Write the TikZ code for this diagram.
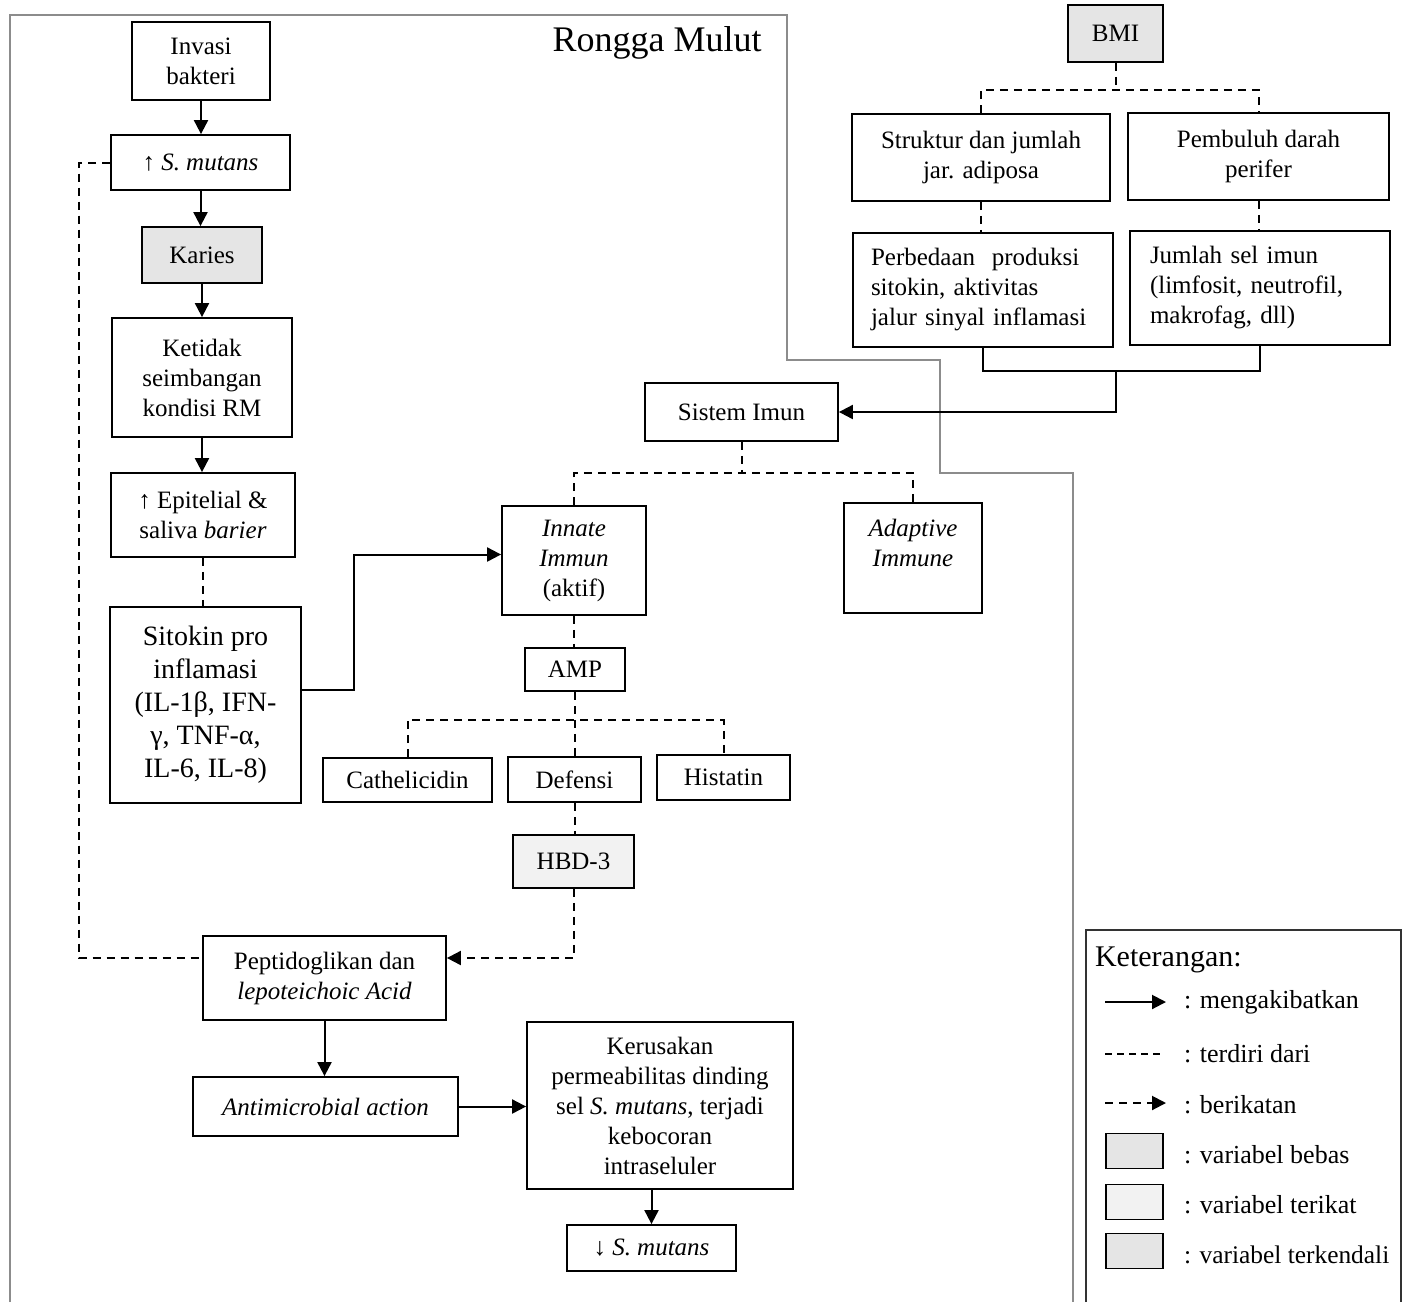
\documentclass[tikz,border=0pt]{standalone}
\usepackage{fontspec}
\setmainfont{Liberation Serif}
\usetikzlibrary{arrows.meta,calc}
\newcommand\nfs{\fontsize{12.5}{15}\selectfont}
\newcommand\bfs{\fontsize{14}{16.5}\selectfont}
\newcommand\lfs{\fontsize{13}{15}\selectfont}
\definecolor{varfill}{gray}{0.90}
\definecolor{varlight}{gray}{0.95}
\definecolor{bordergray}{gray}{0.55}
\begin{document}
\begin{tikzpicture}[x=0.5pt,y=-0.5pt,
  box/.style={draw, line width=0.9pt, align=center, inner sep=2pt, font=\nfs},
  grey/.style={fill=varfill},
  conn/.style={line width=1pt},
  arr/.style={conn, -{Triangle[length=7pt,width=7pt]}},
  dsh/.style={conn, dash pattern=on 4pt off 3pt},
  darr/.style={dsh, -{Triangle[length=7pt,width=7pt]}},
  border/.style={draw=bordergray, line width=0.6pt}]
\useasboundingbox (0,0) rectangle (1403,1302);

% Rongga Mulut region
\draw[border] (10,1302) -- (10,15) -- (787,15) -- (787,360) -- (940,360) -- (940,473) -- (1073,473) -- (1073,1302);
\node[font=\fontsize{18}{20}\selectfont] (rm) at (657,43) {Rongga Mulut};

% left column
\node[box, minimum width=69pt, minimum height=39pt] (inv) at (201,61) {Invasi\\bakteri};
\node[box, minimum width=89.5pt, minimum height=27.5pt] (smu) at (200.5,162.5) {↑ \textit{S. mutans}};
\node[box, grey, minimum width=60pt, minimum height=28pt] (kar) at (202,255) {Karies};
\node[box, minimum width=90pt, minimum height=59.5pt] (ket) at (202,377.5) {Ketidak\\seimbangan\\kondisi RM};
\node[box, minimum width=92pt, minimum height=42pt] (epi) at (203,515) {↑ Epitelial \&\\saliva \textit{barier}};
\node[box, font=\bfs, minimum width=95.5pt, minimum height=98pt] (sit) at (205.5,705) {Sitokin pro\\inflamasi\\(IL-1β, IFN-\\γ, TNF-α,\\IL-6, IL-8)};

% immune
\node[box, minimum width=96.5pt, minimum height=29pt] (sis) at (741.5,412) {Sistem Imun};
\node[box, minimum width=72pt, minimum height=54.5pt] (inn) at (574,560.5) {\textit{Innate}\\\textit{Immun}\\(aktif)};
\node[box, minimum width=69pt, minimum height=55pt] (ada) at (913,558) {\textit{Adaptive}\\\textit{Immune}\\\mbox{}};
\node[box, minimum width=50pt, minimum height=21.5pt] (amp) at (575,669.5) {AMP};
\node[box, minimum width=84.5pt, minimum height=22pt] (cat) at (407.5,780) {Cathelicidin};
\node[box, minimum width=66.5pt, minimum height=22.5pt] (def) at (574.5,779.5) {Defensi};
\node[box, minimum width=66.5pt, minimum height=22.5pt] (his) at (723.5,777.5) {Histatin};
\node[box, fill=varlight, minimum width=60.5pt, minimum height=26.5pt] (hbd) at (573.5,861.5) {HBD-3};

% bottom
\node[box, minimum width=121.5pt, minimum height=42pt] (pep) at (324.5,978) {Peptidoglikan dan\\\textit{lepoteichoic Acid}};
\node[box, minimum width=132.5pt, minimum height=29.5pt] (ant) at (325.5,1106.5) {\textit{Antimicrobial action}};
\node[box, minimum width=133pt, minimum height=83.5pt] (ker) at (660,1105.5) {Kerusakan\\permeabilitas dinding\\sel \textit{S. mutans}, terjadi\\kebocoran\\intraseluler};
\node[box, minimum width=84.5pt, minimum height=23pt] (dsm) at (651.5,1248) {↓ \textit{S. mutans}};

% BMI part
\node[box, grey, minimum width=47.5pt, minimum height=28.5pt] (bmi) at (1115.5,33.5) {BMI};
\node[box, minimum width=129pt, minimum height=43.5pt] (str) at (981,157.5) {Struktur dan jumlah\\jar. adiposa};
\node[box, minimum width=130.5pt, minimum height=43.5pt] (pem) at (1258.5,156.5) {Pembuluh darah\\perifer};
\node[box, align=left, text width=112pt, minimum width=130pt, minimum height=57pt] (per) at (983,290) {Perbedaan\ \ produksi\\sitokin, aktivitas\\jalur sinyal inflamasi};
\node[box, align=left, text width=110pt, minimum width=130pt, minimum height=57pt] (jum) at (1260,288) {Jumlah sel imun\\(limfosit, neutrofil,\\makrofag, dll)};

% connectors left column
\draw[arr] (inv.south) -- (inv.south |- smu.north);
\draw[arr] (smu.south) -- (smu.south |- kar.north);
\draw[arr] (kar.south) -- (kar.south |- ket.north);
\draw[arr] (ket.south) -- (ket.south |- epi.north);
\draw[dsh] (epi.south) -- (epi.south |- sit.north);
\draw[arr] ($(sit.east)+(0,-15)$) -- ++(52,0) |- ($(inn.west)+(0,-6)$);

% Sistem Imun tee
\coordinate (st) at (741.5,473);
\draw[dsh] (sis.south) -- (st);
\draw[dsh] (inn.north) |- (st) -| (ada.north);
\draw[dsh] (inn.south) -- (inn.south |- amp.north);

% AMP tee
\coordinate (ab) at (575,720);
\draw[dsh] (amp.south) -- (amp.south |- def.north);
\draw[dsh] (cat.north) |- (ab) -| (his.north);
\draw[dsh] (def.south) -- (def.south |- hbd.north);

% HBD and loop
\draw[darr] (hbd.south) |- ($(pep.east)+(0,-20)$);
\draw[dsh] (smu.west) -- ++(-31,0) |- ($(pep.west)+(0,-20)$);
\draw[arr] (pep.south) -- (pep.south |- ant.north);
\draw[arr] (ant.east) -- (ant.east -| ker.west);
\draw[arr] (dsm.north |- ker.south) -- (dsm.north);

% BMI connectors
\coordinate (bb) at (1115.5,90);
\draw[dsh] (bmi.south) -- (bb);
\draw[dsh] (str.north) |- (bb) -| (pem.north);
\draw[dsh] (str.south) -- (str.south |- per.north);
\draw[dsh] (pem.south) -- (pem.south |- jum.north);
\coordinate (jb) at (1116,371);
\draw[conn] (per.south) |- (jb) -| (jum.south);
\draw[arr] (jb) |- (sis.east);

% legend
\draw[line width=0.8pt, draw=black!80] (1086,1302) -- (1086,930) -- (1401,930) -- (1401,1302);
\node[anchor=west, font=\fontsize{15}{17}\selectfont] (kt) at (1088,960) {Keterangan:};
\coordinate (l1a) at (1105,1002); \coordinate (l1b) at (1166,1002);
\coordinate (l2a) at (1105,1054); \coordinate (l2b) at (1160,1054);
\coordinate (l3a) at (1105,1103); \coordinate (l3b) at (1166,1103);
\draw[arr] (l1a) -- (l1b);
\draw[line width=0.6pt, dash pattern=on 3.5pt off 2.5pt] (l2a) -- (l2b);
\draw[darr] (l3a) -- (l3b);
\node[box, grey, minimum width=28.5pt, minimum height=17.5pt] (lb1) at (1134.5,1151) {};
\node[box, fill=varlight, minimum width=28.5pt, minimum height=17.5pt] (lb2) at (1134.5,1202) {};
\node[box, grey, minimum width=28.5pt, minimum height=17.5pt] (lb3) at (1134.5,1251) {};
\node[anchor=west, font=\lfs] (t1) at (1177,1002) {: mengakibatkan};
\node[anchor=west, font=\lfs] (t2) at (1177,1054) {: terdiri dari};
\node[anchor=west, font=\lfs] (t3) at (1177,1105) {: berikatan};
\node[anchor=west, font=\lfs] (t4) at (1177,1155) {: variabel bebas};
\node[anchor=west, font=\lfs] (t5) at (1177,1205) {: variabel terikat};
\node[anchor=west, font=\fontsize{12.7}{15}\selectfont] (t6) at (1177,1255) {: variabel terkendali};
\end{tikzpicture}
\end{document}
